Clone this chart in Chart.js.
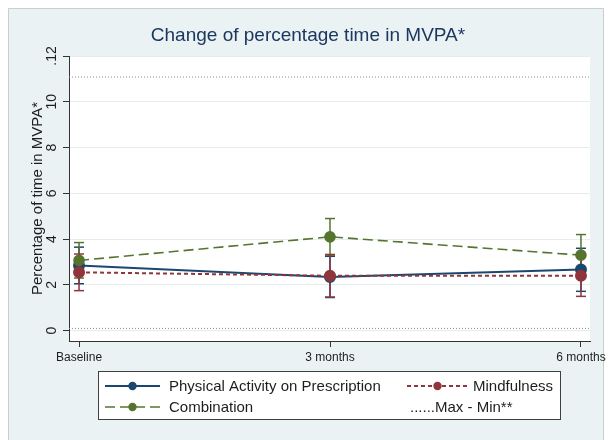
<!DOCTYPE html>
<html>
<head>
<meta charset="utf-8">
<script src="https://cdn.jsdelivr.net/npm/chart.js@4.4.1/dist/chart.umd.min.js"></script>
<style>
  html, body { margin: 0; padding: 0; background: #ffffff; }
  canvas { display: block; }
</style>
</head>
<body>
<canvas id="c" width="608" height="440"></canvas>
<script>
// ---- data ----
const categories = ['Baseline', '3 months', '6 months'];

const papMean = [2.85, 2.35, 2.67];
const papLow  = [2.05, 1.45, 1.72];
const papHigh = [3.65, 3.25, 3.60];

const mindMean = [2.55, 2.40, 2.40];
const mindLow  = [1.75, 1.47, 1.50];
const mindHigh = [3.35, 3.33, 3.30];

const combMean = [3.07, 4.10, 3.30];
const combLow  = [2.30, 3.30, 2.42];
const combHigh = [3.85, 4.90, 4.20];

const maxValue = 11.08;
const minValue = 0.10;

const yTickValues = [0, 2, 4, 6, 8, 10, 12];
const yTickLabels = ['0', '2', '4', '6', '8', '10', '.12'];

const seriesNames = ['Physical Activity on Prescription', 'Mindfulness', 'Combination'];
const refLineName = '......Max - Min**';
const chartTitle = 'Change of percentage time in MVPA*';
const yTitle = 'Percentage of time in MVPA*';

// ---- styling / layout ----
const X_MIN = -0.04, X_MAX = 2.036;
const BLUE = '#1a476f', RED = '#90353b', GREEN = '#55752f';
const FONT = '"Liberation Sans", Arial, Helvetica, sans-serif';

function pts(arr) { return arr.map((v, i) => ({ x: i, y: v })); }

const mainSets = [
  { label: seriesNames[1], data: pts(mindMean), borderColor: RED, backgroundColor: RED,
    borderDash: [4, 3], borderWidth: 2, pointRadius: 5, pointBackgroundColor: RED, pointBorderColor: RED },
  { label: seriesNames[2], data: pts(combMean), borderColor: GREEN, backgroundColor: GREEN,
    borderDash: [10, 5], borderWidth: 1.6, pointRadius: 5, pointBackgroundColor: GREEN, pointBorderColor: GREEN },
  { label: seriesNames[0], data: pts(papMean), borderColor: BLUE, backgroundColor: BLUE,
    borderDash: [], borderWidth: 2, pointRadius: 5, pointBackgroundColor: BLUE, pointBorderColor: BLUE }
];

const refSets = [maxValue, minValue].map(v => ({
  label: refLineName, data: [{ x: X_MIN, y: v }, { x: X_MAX, y: v }],
  borderColor: '#8a8a8a', borderWidth: 1, borderDash: [1, 2], pointRadius: 0
}));

const errSpecs = [
  [mindLow, mindHigh, RED], [combLow, combHigh, GREEN], [papLow, papHigh, BLUE]
];
const errSets = [];
errSpecs.forEach(([lo, hi, col]) => {
  categories.forEach((c, i) => {
    errSets.push({
      label: 'err', data: [{ x: i, y: lo[i] }, { x: i, y: hi[i] }],
      borderColor: col, borderWidth: 1.5, pointStyle: 'line', pointRadius: 5,
      pointBorderColor: col, pointBorderWidth: 1.5, pointHoverRadius: 5
    });
  });
});

const framePlugin = {
  id: 'frame',
  afterLayout(chart) {
    if (chart.titleBlock) { chart.titleBlock.left = 26; }
  },
  beforeDraw(chart) {
    const ctx = chart.ctx, a = chart.chartArea;
    ctx.save();
    ctx.fillStyle = '#ffffff';
    ctx.fillRect(0, 0, chart.width, chart.height);
    ctx.fillStyle = '#eaf2f3';
    ctx.fillRect(8, 8, 596, 440);
    ctx.strokeStyle = '#c9cfd1';
    ctx.lineWidth = 1;
    ctx.beginPath();
    ctx.moveTo(8.5, 441); ctx.lineTo(8.5, 8.5); ctx.lineTo(603.5, 8.5); ctx.lineTo(603.5, 441);
    ctx.stroke();
    ctx.fillStyle = '#ffffff';
    ctx.fillRect(a.left, a.top, a.right - a.left, a.bottom - a.top);
    ctx.restore();
  }
};

const legendPlugin = {
  id: 'stataLegend',
  afterDraw(chart) {
    const ctx = chart.ctx;
    const find = name => chart.data.datasets.find(d => d.label === name);
    ctx.save();
    ctx.fillStyle = '#ffffff';
    ctx.fillRect(98.5, 371.5, 462, 48);
    ctx.strokeStyle = '#404040';
    ctx.lineWidth = 1;
    ctx.strokeRect(98.5, 371.5, 462, 48);
    const slots = [
      { name: seriesNames[0], x0: 105, x1: 160, tx: 169, y: 386 },
      { name: seriesNames[1], x0: 407, x1: 468, tx: 473, y: 386 },
      { name: seriesNames[2], x0: 105, x1: 160, tx: 169, y: 407 }
    ];
    ctx.font = '15px ' + FONT;
    ctx.textBaseline = 'middle';
    ctx.textAlign = 'left';
    slots.forEach(s => {
      const d = find(s.name);
      ctx.strokeStyle = d.borderColor;
      ctx.lineWidth = d.borderWidth;
      ctx.setLineDash(d.borderDash || []);
      ctx.beginPath();
      ctx.moveTo(s.x0, s.y); ctx.lineTo(s.x1, s.y);
      ctx.stroke();
      ctx.setLineDash([]);
      ctx.fillStyle = d.pointBackgroundColor;
      ctx.beginPath();
      ctx.arc((s.x0 + s.x1) / 2, s.y, 4.2, 0, Math.PI * 2);
      ctx.fill();
      ctx.fillStyle = '#1e1e1e';
      ctx.fillText(s.name, s.tx, s.y + 1);
    });
    ctx.fillStyle = '#1e1e1e';
    ctx.fillText(refLineName, 410, 408);
    ctx.restore();
  }
};

new Chart(document.getElementById('c'), {
  type: 'line',
  data: { datasets: [...mainSets, ...refSets, ...errSets] },
  options: {
    responsive: false,
    animation: false,
    devicePixelRatio: 1,
    layout: { padding: { left: 0, right: 18, top: 0, bottom: 0 } },
    elements: { line: { tension: 0, fill: false } },
    plugins: {
      legend: { display: false },
      tooltip: { enabled: false },
      title: {
        display: true, text: chartTitle, color: '#1c3760',
        font: { family: FONT, size: 19, weight: 'normal', lineHeight: 1.2 },
        padding: { top: 24.6, bottom: 8.6 }
      }
    },
    scales: {
      x: {
        type: 'linear', min: X_MIN, max: X_MAX,
        afterBuildTicks: s => { s.ticks = categories.map((c, i) => ({ value: i })); },
        afterFit: s => { s.height = 99; s.paddingLeft = 0; s.paddingRight = 0; },
        ticks: { callback: v => categories[v], color: '#1e1e1e', padding: 3,
                 font: { family: FONT, size: 12 }, maxRotation: 0, autoSkip: false },
        grid: { drawOnChartArea: false, tickLength: 6, tickColor: '#333', tickWidth: 1 },
        border: { color: '#333', width: 1 }
      },
      y: {
        type: 'linear', min: -0.45, max: 12,
        afterBuildTicks: s => { s.ticks = yTickValues.map(v => ({ value: v })); },
        afterFit: s => { s.width = 69; s.paddingTop = 0; s.paddingBottom = 0; },
        ticks: { callback: (v, i) => yTickLabels[i], color: '#1e1e1e', padding: 1,
                 minRotation: 90, maxRotation: 90, crossAlign: 'center', autoSkip: false,
                 font: { family: FONT, size: 14 } },
        grid: { color: '#e4eef0', lineWidth: 1, tickLength: 6, tickColor: '#333', tickWidth: 1 },
        border: { color: '#333', width: 1 },
        title: { display: true, text: yTitle, color: '#1e1e1e',
                 font: { family: FONT, size: 15, lineHeight: 1.2 }, padding: { top: 28.5, bottom: 0 } }
      }
    }
  },
  plugins: [framePlugin, legendPlugin]
});
</script>
</body>
</html>
